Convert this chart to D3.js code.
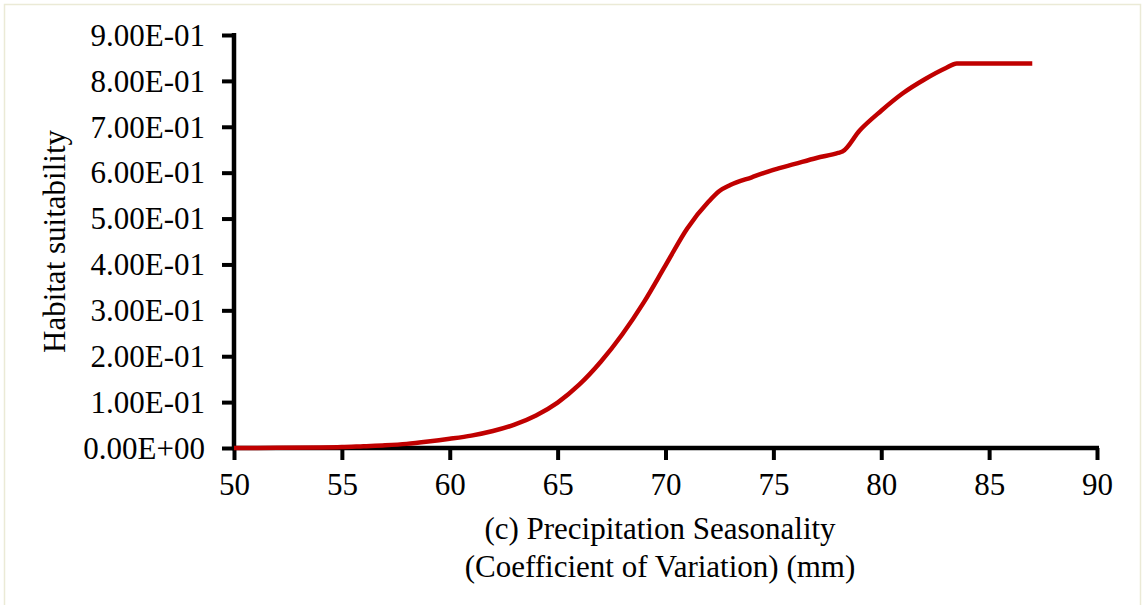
<!DOCTYPE html>
<html>
<head>
<meta charset="utf-8">
<script src="https://cdn.jsdelivr.net/npm/d3@7"></script>
<style>
  html, body { margin: 0; padding: 0; background: #ffffff; }
  svg { display: block; }
  text { font-family: "Liberation Serif", "Times New Roman", serif; fill: #000; }
</style>
</head>
<body>
<svg id="chart" width="1144" height="605"></svg>
<script>
// ---- data ----
const xValues = [50, 52, 54, 55, 56, 57, 58, 59, 60, 61, 62, 63, 64, 65, 66, 67, 68, 69, 70, 71, 72, 72.5, 73, 74, 75, 76, 77, 78, 78.2, 79, 80, 81, 82, 83, 83.5, 87];
const suitability = [0, 0.0003, 0.001, 0.002, 0.004, 0.006, 0.009, 0.014, 0.02, 0.027, 0.037, 0.051, 0.071, 0.099, 0.138, 0.188, 0.248, 0.318, 0.398, 0.478, 0.537, 0.56, 0.573, 0.59, 0.606, 0.619, 0.632, 0.643, 0.646, 0.692, 0.735, 0.773, 0.803, 0.828, 0.838, 0.838];
const xTicks = [50, 55, 60, 65, 70, 75, 80, 85, 90];
const yTicks = [0, 0.1, 0.2, 0.3, 0.4, 0.5, 0.6, 0.7, 0.8, 0.9];
const yTickLabels = ["0.00E+00", "1.00E-01", "2.00E-01", "3.00E-01", "4.00E-01", "5.00E-01", "6.00E-01", "7.00E-01", "8.00E-01", "9.00E-01"];
const yTitle = "Habitat suitability";
const xTitleLines = ["(c) Precipitation Seasonality", "(Coefficient of Variation) (mm)"];

// ---- layout ----
const svg = d3.select("#chart");
const mLeft = 234, mRight = 1097, mTop = 35, mBottom = 448;
const fontSize = "31px";

// outer frame
svg.append("rect").attr("x", 4.5).attr("y", 4.5).attr("width", 1136).attr("height", 610)
  .attr("fill", "#ffffff").attr("stroke", "#ebead6").attr("stroke-width", 1.5);

const x = d3.scaleLinear().domain([50, 90]).range([mLeft, mRight]);
const y = d3.scaleLinear().domain([0, 0.9]).range([mBottom, mTop]);

// axes
const xAxis = d3.axisBottom(x).tickValues(xTicks).tickSize(12).tickPadding(13).tickSizeOuter(0).tickFormat(d3.format("d"));
const yAxis = d3.axisLeft(y).tickValues(yTicks).tickSize(12).tickPadding(17).tickSizeOuter(0)
  .tickFormat((d, i) => yTickLabels[i]);

const gx = svg.append("g").attr("transform", `translate(0,${mBottom})`).call(xAxis);
const gy = svg.append("g").attr("transform", `translate(${mLeft},0)`).call(yAxis);

[gx, gy].forEach(g => {
  g.attr("font-family", null).attr("font-size", null);
  g.select(".domain").attr("stroke", "#000").attr("stroke-width", 4.5);
  g.selectAll(".tick line").attr("stroke", "#000").attr("stroke-width", 4);
  g.selectAll(".tick text").style("font-family", "'Liberation Serif', serif").style("font-size", fontSize).attr("fill", "#000");
});
gy.selectAll(".tick text").attr("dy", "0.33em");
gx.selectAll(".tick text").attr("dy", "0.71em");
gx.select(".domain").attr("d", `M${mLeft - 2},0H${mRight + 2}`);
gy.select(".domain").attr("d", `M0,${mTop - 2}V${mBottom + 2}`);

// line
const line = d3.line()
  .x((d, i) => x(xValues[i]))
  .y(d => y(d))
  .curve(d3.curveMonotoneX);

svg.append("path")
  .datum(suitability)
  .attr("d", line)
  .attr("fill", "none")
  .attr("stroke", "#c00000")
  .attr("stroke-width", 4.5)
  .attr("stroke-linejoin", "round");

// titles
svg.append("text")
  .attr("transform", `translate(65,${(mTop + mBottom) / 2}) rotate(-90)`)
  .attr("text-anchor", "middle")
  .style("font-size", fontSize)
  .text(yTitle);

svg.selectAll(".xtitle").data(xTitleLines).enter().append("text")
  .attr("class", "xtitle")
  .attr("x", 660)
  .attr("y", (d, i) => 539 + i * 38)
  .attr("text-anchor", "middle")
  .style("font-size", fontSize)
  .text(d => d);
</script>
</body>
</html>
